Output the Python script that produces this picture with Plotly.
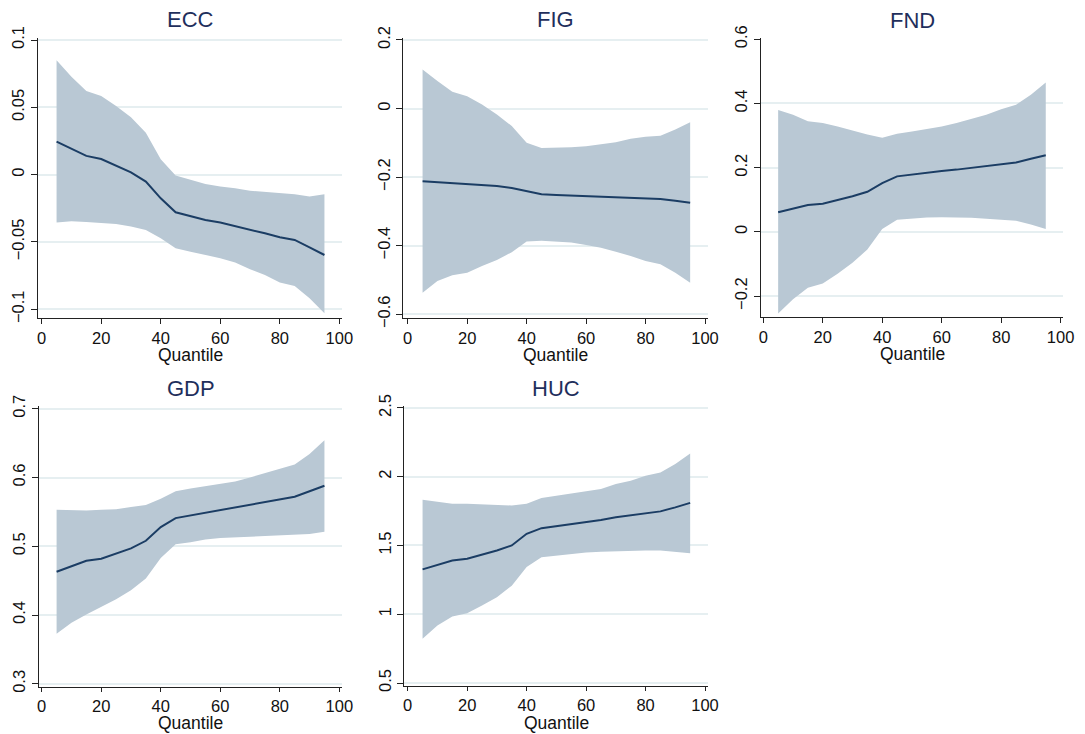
import plotly.graph_objects as go

# The page body adds an 8px margin around the figure; figure pixel coords = page coords - 8
OFF = 8
W, H = 1085 - OFF, 734 - OFF

quantile = [5, 10, 15, 20, 25, 30, 35, 40, 45, 50, 55, 60, 65, 70, 75, 80, 85, 90, 95]

ecc_coef = [0.0245, 0.019, 0.0139, 0.0116, 0.0069, 0.0017, -0.0052, -0.0176, -0.028, -0.0307,
            -0.0337, -0.0356, -0.0381, -0.041, -0.0436, -0.0465, -0.0485, -0.054, -0.0597]
ecc_upper = [0.085, 0.0728, 0.0621, 0.0584, 0.051, 0.0426, 0.0312, 0.0114, -0.0007, -0.004,
             -0.0069, -0.0089, -0.0101, -0.0119, -0.0129, -0.0139, -0.0146, -0.0163, -0.0146]
ecc_lower = [-0.0356, -0.0347, -0.0351, -0.0356, -0.0366, -0.0386, -0.0411, -0.0473, -0.0547, -0.0572,
             -0.0597, -0.0621, -0.0653, -0.0703, -0.0745, -0.0802, -0.0827, -0.0918, -0.103]

fig_coef = [-0.212, -0.215, -0.218, -0.219, -0.222, -0.226, -0.232, -0.242, -0.25, -0.252,
            -0.254, -0.255, -0.256, -0.258, -0.26, -0.262, -0.264, -0.269, -0.275]
fig_upper = [0.114, 0.08, 0.049, 0.036, 0.012, -0.017, -0.051, -0.1, -0.115, -0.115,
             -0.113, -0.11, -0.104, -0.098, -0.088, -0.082, -0.079, -0.061, -0.04]
fig_lower = [-0.537, -0.503, -0.486, -0.479, -0.459, -0.442, -0.419, -0.388, -0.386, -0.389,
             -0.391, -0.398, -0.406, -0.418, -0.43, -0.445, -0.454, -0.479, -0.508]

fnd_coef = [0.061, 0.073, 0.084, 0.088, 0.099, 0.111, 0.125, 0.152, 0.173, 0.179,
            0.184, 0.19, 0.194, 0.2, 0.205, 0.21, 0.216, 0.228, 0.239]
fnd_upper = [0.38, 0.365, 0.345, 0.339, 0.328, 0.315, 0.303, 0.293, 0.306, 0.313,
             0.32, 0.328, 0.339, 0.352, 0.365, 0.382, 0.396, 0.427, 0.465]
fnd_lower = [-0.254, -0.21, -0.174, -0.161, -0.13, -0.096, -0.055, 0.009, 0.038, 0.042,
             0.045, 0.046, 0.046, 0.044, 0.041, 0.038, 0.035, 0.023, 0.009]

gdp_coef = [0.463, 0.471, 0.479, 0.482, 0.489, 0.497, 0.508, 0.528, 0.541, 0.545,
            0.549, 0.553, 0.557, 0.561, 0.565, 0.569, 0.572, 0.58, 0.588]
gdp_upper = [0.553, 0.552, 0.552, 0.553, 0.554, 0.557, 0.56, 0.569, 0.58, 0.584,
             0.587, 0.59, 0.594, 0.6, 0.606, 0.613, 0.619, 0.634, 0.654]
gdp_lower = [0.373, 0.389, 0.401, 0.412, 0.423, 0.436, 0.453, 0.483, 0.503, 0.506,
             0.51, 0.512, 0.513, 0.515, 0.516, 0.517, 0.518, 0.518, 0.521]

huc_coef = [1.326, 1.36, 1.391, 1.403, 1.432, 1.464, 1.5, 1.585, 1.626, 1.64,
            1.657, 1.669, 1.686, 1.705, 1.719, 1.738, 1.748, 1.777, 1.81]
huc_upper = [1.832, 1.815, 1.803, 1.803, 1.798, 1.793, 1.791, 1.803, 1.846, 1.862,
             1.879, 1.893, 1.91, 1.947, 1.971, 2.007, 2.031, 2.092, 2.169]
huc_lower = [0.822, 0.918, 0.983, 1.007, 1.063, 1.123, 1.208, 1.343, 1.415, 1.427,
             1.439, 1.449, 1.454, 1.459, 1.461, 1.464, 1.464, 1.456, 1.444]

titles = ["ECC", "FIG", "FND", "GDP", "HUC"]
coefs = [ecc_coef, fig_coef, fnd_coef, gdp_coef, huc_coef]
uppers = [ecc_upper, fig_upper, fnd_upper, gdp_upper, huc_upper]
lowers = [ecc_lower, fig_lower, fnd_lower, gdp_lower, huc_lower]

x_ticks = [0, 20, 40, 60, 80, 100]
y_ticks = [
    [-0.1, -0.05, 0, 0.05, 0.1],
    [-0.6, -0.4, -0.2, 0, 0.2],
    [-0.2, 0, 0.2, 0.4, 0.6],
    [0.3, 0.4, 0.5, 0.6, 0.7],
    [0.5, 1, 1.5, 2, 2.5],
]
y_labels = [
    ["\u22120.1", "\u22120.05", "0", "0.05", "0.1"],
    ["\u22120.6", "\u22120.4", "\u22120.2", "0", "0.2"],
    ["\u22120.2", "0", "0.2", "0.4", "0.6"],
    ["0.3", "0.4", "0.5", "0.6", "0.7"],
    ["0.5", "1", "1.5", "2", "2.5"],
]

# panel boxes in page pixels: (left, right, top, bottom), and axis ranges
boxes = [
    (38, 342, 38, 318),
    (403.3, 708.3, 38, 318),
    (760.7, 1063.3, 38.3, 317),
    (39, 342, 406.3, 687.3),
    (404.3, 708.3, 406.3, 686.3),
]
x_ranges = [[-1.24, 100.9], [-1.48, 101.1], [-0.87, 100.9], [-0.91, 100.9], [-1.14, 101.1]]
y_ranges = [[-0.1065, 0.1015], [-0.611, 0.2058], [-0.265, 0.603], [0.295, 0.7035], [0.476, 2.512]]
quantile_label_gap = [37, 37, 37, 36, 37]
x_tick_len = [5, 5, 5, 4, 4]

FILL = "#b9c8d4"
LINE = "#1b3d64"
TITLE = "#1f2f5c"
GRID = "#e6eff1"
FONT = "Liberation Sans, Arial, sans-serif"

fig = go.Figure()
layout = {}
annotations = []
for i in range(5):
    k = "" if i == 0 else str(i + 1)
    xa, ya = "x" + k, "y" + k
    fig.add_trace(go.Scatter(x=quantile, y=uppers[i], mode="lines", line=dict(width=0, color=FILL),
                             xaxis=xa, yaxis=ya, showlegend=False, hoverinfo="skip"))
    fig.add_trace(go.Scatter(x=quantile, y=lowers[i], mode="lines", line=dict(width=0, color=FILL),
                             fill="tonexty", fillcolor=FILL,
                             xaxis=xa, yaxis=ya, showlegend=False, hoverinfo="skip"))
    fig.add_trace(go.Scatter(x=quantile, y=coefs[i], mode="lines", line=dict(width=2, color=LINE),
                             xaxis=xa, yaxis=ya, showlegend=False, name=titles[i]))
    l, r, t, b = [v - OFF for v in boxes[i]]
    layout["xaxis" + k] = dict(
        domain=[l / W, r / W], range=x_ranges[i], anchor=ya, automargin=False,
        tickmode="array", tickvals=x_ticks, ticktext=[str(v) for v in x_ticks],
        showgrid=False, zeroline=False, showline=True, linecolor="#222", linewidth=1.2,
        ticks="outside", ticklen=x_tick_len[i], tickcolor="#222", tickwidth=1.2,
        tickfont=dict(size=16.5, color="#111", family=FONT),
    )
    layout["yaxis" + k] = dict(
        domain=[1 - b / H, 1 - t / H], range=y_ranges[i], anchor=xa, automargin=False,
        tickmode="array", tickvals=y_ticks[i], ticktext=y_labels[i], tickangle=-90,
        showgrid=True, gridcolor=GRID, gridwidth=1.5, zeroline=False,
        showline=True, linecolor="#222", linewidth=1.2,
        ticks="outside", ticklen=6, tickcolor="#222", tickwidth=1.2,
        tickfont=dict(size=16.5, color="#111", family=FONT),
    )
    cx = (l + r) / 2 / W
    annotations.append(dict(text=titles[i], x=cx, y=1 - (t - 18) / H, xref="paper", yref="paper",
                            xanchor="center", yanchor="middle", showarrow=False,
                            font=dict(size=22, color=TITLE, family=FONT)))
    annotations.append(dict(text="Quantile", x=cx, y=1 - (b + quantile_label_gap[i]) / H,
                            xref="paper", yref="paper",
                            xanchor="center", yanchor="middle", showarrow=False,
                            font=dict(size=17.5, color="#111", family=FONT)))

fig.update_layout(
    template="none",
    width=W, height=H, margin=dict(l=0, r=0, t=0, b=0, autoexpand=False),
    paper_bgcolor="white", plot_bgcolor="white",
    annotations=annotations, **layout,
)
fig.write_html("out.html")
